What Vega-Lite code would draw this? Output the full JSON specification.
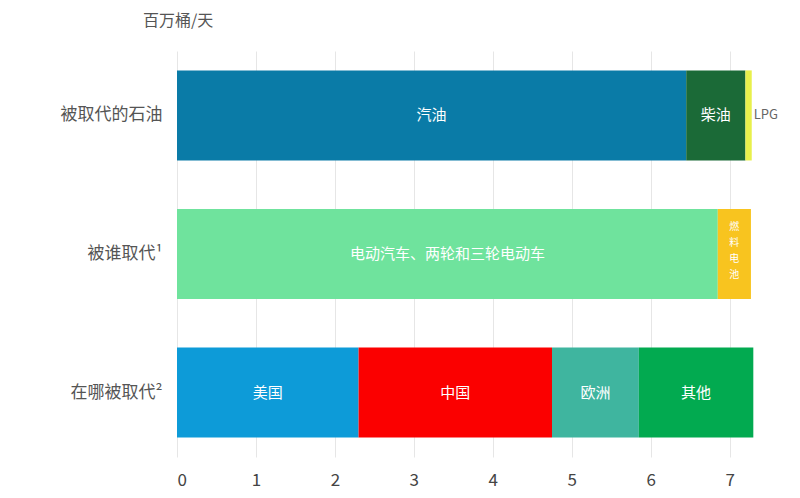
{
  "$schema": "https://vega.github.io/schema/vega-lite/v6.json",
  "width": 800,
  "height": 498,
  "autosize": {"type": "fit", "contains": "padding"},
  "padding": {"left": 60, "top": 13, "right": 23, "bottom": 10},
  "background": "white",
  "config": {
    "font": "Noto Sans CJK SC",
    "view": {"stroke": null}
  },
  "title": {
    "text": "百万桶/天",
    "anchor": "start",
    "frame": "group",
    "dx": -34,
    "fontSize": 16,
    "fontWeight": "normal",
    "color": "#555555",
    "offset": 22
  },
  "data": {
    "values": [
      {"row": "被取代的石油", "seg": "汽油", "value": 6.45, "ord": 1},
      {"row": "被取代的石油", "seg": "柴油", "value": 0.75, "ord": 2},
      {"row": "被取代的石油", "seg": "LPG", "value": 0.08, "ord": 3},
      {"row": "被谁取代¹", "seg": "电动汽车、两轮和三轮电动车", "value": 6.85, "ord": 1},
      {"row": "被谁取代¹", "seg": "燃\n料\n电\n池", "value": 0.42, "ord": 2},
      {"row": "在哪被取代²", "seg": "美国", "value": 2.3, "ord": 1},
      {"row": "在哪被取代²", "seg": "中国", "value": 2.45, "ord": 2},
      {"row": "在哪被取代²", "seg": "欧洲", "value": 1.1, "ord": 3},
      {"row": "在哪被取代²", "seg": "其他", "value": 1.45, "ord": 4}
    ]
  },
  "transform": [
    {"stack": "value", "groupby": ["row"], "sort": [{"field": "ord"}], "as": ["x0", "x1"]},
    {"calculate": "(datum.x0 + datum.x1) / 2", "as": "mid"}
  ],
  "encoding": {
    "y": {
      "field": "row",
      "type": "nominal",
      "sort": ["被取代的石油", "被谁取代¹", "在哪被取代²"],
      "title": null,
      "scale": {"paddingInner": 0.35, "paddingOuter": 0.14},
      "axis": {
        "domain": false,
        "ticks": false,
        "labelFontSize": 17,
        "labelColor": "#555555",
        "labelPadding": 15,
        "grid": false
      }
    }
  },
  "layer": [
    {
      "mark": {"type": "bar", "cornerRadius": 0},
      "encoding": {
        "x": {
          "field": "x0",
          "type": "quantitative",
          "title": null,
          "scale": {"domain": [0, 7.6], "nice": false},
          "axis": {
            "values": [0, 1, 2, 3, 4, 5, 6, 7],
            "format": "d",
            "domain": false,
            "ticks": false,
            "grid": true,
            "gridColor": "#e6e6e6",
            "labelFontSize": 17,
            "labelColor": "#444444",
            "labelPadding": 15
          }
        },
        "x2": {"field": "x1"},
        "color": {
          "field": "seg",
          "type": "nominal",
          "legend": null,
          "scale": {
            "domain": ["汽油", "柴油", "LPG", "电动汽车、两轮和三轮电动车", "燃\n料\n电\n池", "美国", "中国", "欧洲", "其他"],
            "range": ["#0a7ba7", "#1b6a37", "#e8f04c", "#6fe39d", "#f8c41f", "#0d9bd8", "#fb0000", "#3fb59f", "#02aa50"]
          }
        }
      }
    },
    {
      "transform": [{"filter": "datum.seg !== 'LPG' && datum.seg !== '燃\\n料\\n电\\n池'"}],
      "mark": {"type": "text", "color": "white", "fontSize": 15},
      "encoding": {
        "x": {"field": "mid", "type": "quantitative"},
        "text": {"field": "seg"}
      }
    },
    {
      "transform": [{"filter": "datum.seg === '燃\\n料\\n电\\n池'"}],
      "mark": {"type": "text", "color": "white", "fontSize": 10, "lineBreak": "\n", "lineHeight": 16, "baseline": "top", "dy": -32},
      "encoding": {
        "x": {"field": "mid", "type": "quantitative"},
        "text": {"field": "seg"}
      }
    },
    {
      "transform": [{"filter": "datum.seg === 'LPG'"}],
      "mark": {"type": "text", "color": "#666666", "fontSize": 13, "align": "left", "dx": 2},
      "encoding": {
        "x": {"field": "x1", "type": "quantitative"},
        "text": {"field": "seg"}
      }
    }
  ]
}
